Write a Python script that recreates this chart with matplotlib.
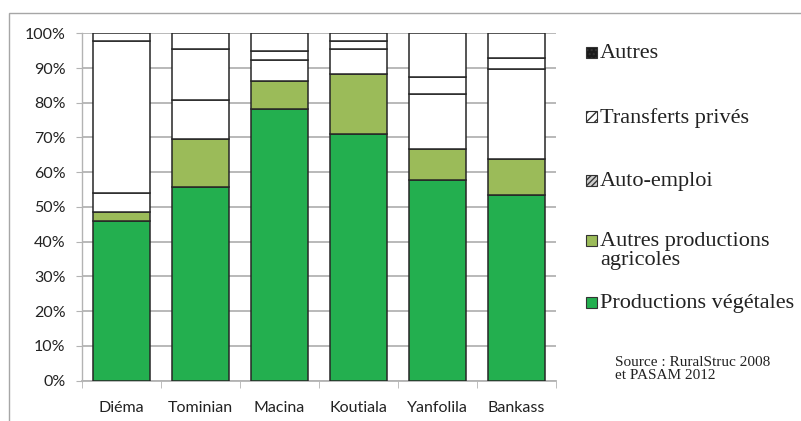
import matplotlib
matplotlib.use("Agg")
import numpy as np
import matplotlib.pyplot as plt
from matplotlib.patches import Rectangle

# ── data (shares of income, %) ────────────────────────────────────────────────
regions = ["Diéma", "Tominian", "Macina", "Koutiala", "Yanfolila", "Bankass"]
prod_vegetales = [46.0, 55.8, 78.2, 71.1, 57.8, 53.3]
autres_prod_agri = [2.5, 13.9, 8.0, 17.3, 8.9, 10.4]
auto_emploi = [5.6, 11.1, 6.0, 7.1, 15.9, 26.0]
transferts_prives = [43.8, 14.6, 2.8, 2.4, 4.9, 3.3]
autres = [2.1, 4.6, 5.0, 2.1, 12.5, 7.0]

series_names = ["Productions végétales", "Autres productions\nagricoles",
                "Auto-emploi", "Transferts privés", "Autres"]
series_vals = [prod_vegetales, autres_prod_agri, auto_emploi,
               transferts_prives, autres]
# bar fills (patterns got lost in the source, white segments in the bars)
bar_colors = ["#23AF4F", "#9BBB59", "white", "white", "white"]
legend_faces = ["#23AF4F", "#9BBB59", "#D0D0D0", "white", "#1A1A1A"]
legend_hatch = [None, None, "//////", "////", "...."]

EDGE = "#262626"
GRID = "#B3B3B3"

fig = plt.figure(figsize=(8.01, 4.21), dpi=100)
ax = fig.add_axes([82 / 801, 40.5 / 421, 474 / 801, 347.2 / 421])

x = np.arange(len(regions))
bottom = np.zeros(len(regions))
for vals, col in zip(series_vals, bar_colors):
    v = np.array(vals) / 100.0
    ax.bar(x, v, width=0.73, bottom=bottom, color=col, edgecolor=EDGE,
           linewidth=1.1, zorder=3)
    bottom += v

ax.set_xlim(-0.5, len(regions) - 0.5)
ax.set_ylim(0, 1.0)
ax.set_yticks(np.arange(0, 1.01, 0.1))
ax.set_yticklabels([f"{int(round(t * 100))}%" for t in np.arange(0, 1.01, 0.1)])
ax.set_xticks(x)
ax.set_xticklabels(regions)
ax.set_xticks(np.arange(-0.5, len(regions), 1.0), minor=True)

ax.yaxis.grid(True, color=GRID, linewidth=1.3, zorder=0)
ax.set_axisbelow(True)
for s in ["top", "right"]:
    ax.spines[s].set_visible(False)
ax.spines["left"].set_color(GRID)
ax.spines["bottom"].set_color(GRID)
ax.spines["left"].set_linewidth(1.0)
ax.spines["bottom"].set_linewidth(1.3)

tick_font = dict(family=["Lato", "DejaVu Sans"], size=11.5, color="#222222")
ax.tick_params(axis="y", length=4, color=GRID, pad=8)
ax.tick_params(axis="x", which="major", length=0, pad=15)
ax.tick_params(axis="x", which="minor", length=5, color=GRID)
for lab in ax.get_yticklabels() + ax.get_xticklabels():
    lab.set_fontfamily(tick_font["family"])
    lab.set_fontsize(tick_font["size"])
    lab.set_color(tick_font["color"])

# outer chart frame
fig.patches.append(Rectangle((9 / 801, -0.1), 1.1, (421 - 13) / 421 + 0.1,
                             transform=fig.transFigure, fill=False,
                             edgecolor="#A6A6A6", linewidth=1.0))

# legend (manual), first-line centre in px from figure bottom
serif = ["Liberation Serif", "DejaVu Serif"]
leg_y = [119, 181, 241, 305, 369]
for name, face, hatch, yy in zip(series_names, legend_faces, legend_hatch, leg_y):
    r = Rectangle((586 / 801, (yy - 5.5) / 421), 11 / 801, 11 / 421,
                  transform=fig.transFigure, facecolor=face, edgecolor="#333333",
                  linewidth=0.8, hatch=hatch)
    fig.patches.append(r)
    fig.text(600 / 801, (yy + 8) / 421, name, family=serif, size=16,
             color="#222222", va="top", ha="left", linespacing=1.0)

fig.text(615 / 801, 65 / 421, "Source : RuralStruc 2008\net PASAM 2012",
         family=serif, size=11, color="#222222", va="top", ha="left",
         linespacing=1.0)

fig.savefig("out.png", dpi=100)
